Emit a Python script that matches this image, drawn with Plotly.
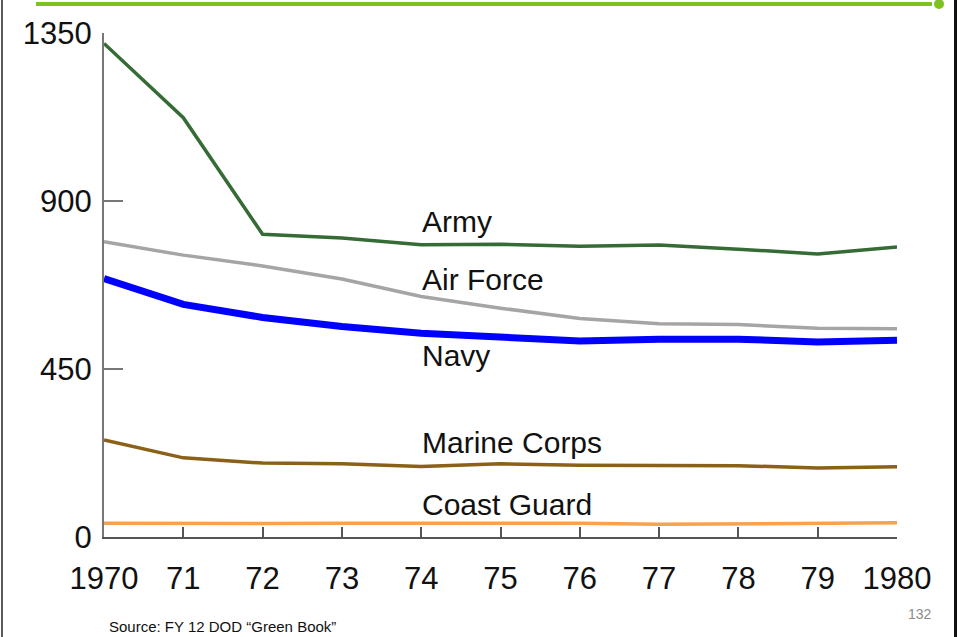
import plotly.graph_objects as go

years = list(range(1970, 1981))
tick_labels = ["1970", "71", "72", "73", "74", "75", "76", "77", "78", "79", "1980"]

army = [1322, 1123, 811, 801, 783, 784, 779, 782, 771, 758, 777]
air_force = [791, 755, 726, 691, 644, 613, 585, 571, 569, 559, 558]
navy = [692, 623, 588, 564, 546, 535, 525, 530, 530, 522, 527]
marine_corps = [260, 212, 198, 196, 189, 196, 192, 192, 191, 185, 188]
coast_guard = [37, 36, 36, 37, 37, 36, 37, 34, 35, 37, 38]

series_names = ["Army", "Air Force", "Navy", "Marine Corps", "Coast Guard"]
series_values = [army, air_force, navy, marine_corps, coast_guard]
series_colors = ["#356b35", "#a5a5a5", "#0000ff", "#8a6116", "#f7a24e"]
series_widths = [3.5, 3.5, 7, 3.5, 3.5]
label_y = [844, 691, 486, 253, 88]

W, H = 958, 637
L, R, T, B = 104, 61, 33, 100
pw, ph = W - L - R, H - T - B

def px_x(px):
    return (px - L) / pw

def px_y(py):
    return (H - B - py) / ph

FONT = "Liberation Sans, Arial, sans-serif"

fig = go.Figure()
for name, vals, col, wd in zip(series_names, series_values, series_colors, series_widths):
    fig.add_trace(go.Scatter(
        x=years, y=vals, mode="lines", name=name,
        line=dict(color=col, width=wd), cliponaxis=False,
        hoverinfo="skip",
    ))

annotations = []
for name, ly in zip(series_names, label_y):
    annotations.append(dict(
        x=1974, y=ly, xref="x", yref="y", text=name, showarrow=False,
        xanchor="left", yanchor="middle", xshift=-1,
        font=dict(family=FONT, size=30, color="#111111"),
    ))

annotations.append(dict(
    x=px_x(107), y=px_y(637), xref="paper", yref="paper",
    text="Source: FY 12 DOD \u201cGreen Book\u201d", showarrow=False,
    xanchor="left", yanchor="bottom",
    font=dict(family=FONT, size=15, color="#111111"),
))
annotations.append(dict(
    x=px_x(934), y=px_y(614), xref="paper", yref="paper",
    text="132", showarrow=False, xanchor="right", yanchor="middle",
    font=dict(family=FONT, size=14, color="#8c8c8c"),
))

shapes = [
    dict(type="line", xref="paper", yref="paper",
         x0=px_x(36), x1=px_x(932), y0=px_y(4), y1=px_y(4),
         line=dict(color="#7dc21e", width=4)),
    dict(type="circle", xref="paper", yref="paper",
         x0=px_x(934), x1=px_x(944), y0=px_y(-1), y1=px_y(9),
         fillcolor="#7dc21e", line=dict(color="#7dc21e", width=0)),
    dict(type="line", xref="paper", yref="paper",
         x0=px_x(2), x1=px_x(2), y0=px_y(0), y1=px_y(637),
         line=dict(color="#5a5a5a", width=2)),
    dict(type="line", xref="paper", yref="paper",
         x0=px_x(955.5), x1=px_x(955.5), y0=px_y(0), y1=px_y(637),
         line=dict(color="#111111", width=3)),
]

fig.update_layout(
    width=W, height=H, autosize=False,
    margin=dict(l=L, r=R, t=T, b=B, pad=0),
    paper_bgcolor="white", plot_bgcolor="white",
    showlegend=False,
    annotations=annotations,
    shapes=shapes,
    font=dict(family=FONT, color="#111111"),
)
fig.update_xaxes(
    range=[1970, 1980], tickvals=years, ticktext=tick_labels,
    showgrid=False, zeroline=False, showline=True,
    linecolor="#555555", linewidth=2,
    ticks="inside", ticklen=10, tickwidth=1.5, tickcolor="#555555",
    tickfont=dict(family=FONT, size=31, color="#111111"),
    ticklabelstandoff=13,
)
fig.update_yaxes(
    range=[0, 1350], tickvals=[0, 450, 900, 1350],
    showgrid=False, zeroline=False, showline=True,
    linecolor="#777777", linewidth=2,
    ticks="inside", ticklen=19, tickwidth=2, tickcolor="#777777",
    tickfont=dict(family=FONT, size=31, color="#111111"),
    ticklabelstandoff=4,
)

fig.write_html(
    "out.html",
    config={"displayModeBar": False},
    post_script="document.body.style.margin='0px';document.body.style.overflow='hidden';",
)
